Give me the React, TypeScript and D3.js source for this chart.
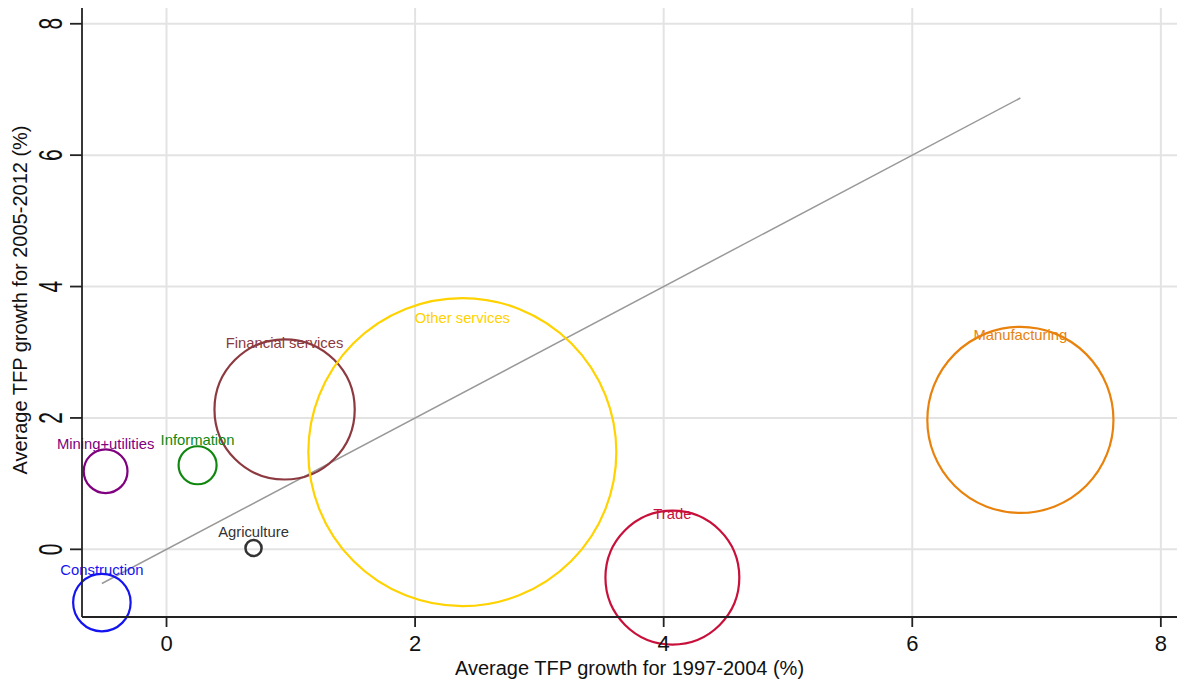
import * as d3 from "d3";
import { useEffect } from "react";

// sector data
const sectors = [
  "Agriculture",
  "Mining+utilities",
  "Construction",
  "Manufacturing",
  "Trade",
  "Information",
  "Financial services",
  "Other services",
];
const tfp9704 = [0.7, -0.49, -0.52, 6.87, 4.07, 0.25, 0.95, 2.38];
const tfp0512 = [0.02, 1.19, -0.81, 1.97, -0.43, 1.28, 2.13, 1.48];
const share = [0.15, 1.1, 1.9, 19.9, 10.3, 0.83, 11.3, 54.5];
const colors = ["#333333", "#800080", "#1414f0", "#e8820c", "#c8103a", "#108810", "#8c3a40", "#ffd200"];
const xTicks = [0, 2, 4, 6, 8];
const yTicks = [0, 2, 4, 6, 8];

const W = 1177;
const H = 685;
const left = 82;
const top = 8;
const bottom = 617;

export default function App() {
  useEffect(() => {
    document.body.style.margin = "0";
  }, []);

  const x = d3.scaleLinear().domain([-0.68, 8.13]).range([left, W]);
  const y = d3.scaleLinear().domain([-1.03, 8.24]).range([bottom, top]);
  const r = d3.scaleSqrt().domain([0, d3.max(share)!]).range([0, 154]);

  const lo = d3.min(tfp9704)!;
  const hi = d3.max(tfp9704)!;
  const diag = d3.line<number>().x((d) => x(d)).y((d) => y(d))([lo, hi]);

  const font = "Liberation Sans, Arial, Helvetica, sans-serif";

  return (
    <svg width={W} height={H} style={{ display: "block", background: "#fff" }} fontFamily={font}>
      {/* grid */}
      {xTicks.map((t) => (
        <line key={"gx" + t} x1={x(t)} x2={x(t)} y1={top} y2={bottom} stroke="#e3e3e3" strokeWidth={2} />
      ))}
      {yTicks.map((t) => (
        <line key={"gy" + t} x1={left} x2={W} y1={y(t)} y2={y(t)} stroke="#e3e3e3" strokeWidth={2} />
      ))}

      {/* 45 degree line */}
      <path d={diag!} stroke="#999" strokeWidth={1.5} fill="none" />

      {/* bubbles */}
      {sectors.map((s, i) => (
        <circle
          key={s}
          cx={x(tfp9704[i])}
          cy={y(tfp0512[i])}
          r={r(share[i])}
          fill="none"
          stroke={colors[i]}
          strokeWidth={i === 0 ? 2.5 : 2.2}
        />
      ))}
      {sectors.map((s, i) => (
        <text
          key={"l" + s}
          x={x(tfp9704[i])}
          y={y(tfp0512[i]) - (0.808 * r(share[i]) + 9.5)}
          textAnchor="middle"
          dominantBaseline="central"
          fontSize={14.8}
          fill={colors[i]}
        >
          {s}
        </text>
      ))}

      {/* axes */}
      <line x1={left} x2={left} y1={top} y2={bottom} stroke="#222" strokeWidth={1.8} />
      <line x1={left} x2={W} y1={bottom} y2={bottom} stroke="#222" strokeWidth={1.8} />
      {xTicks.map((t) => (
        <g key={"xt" + t}>
          <line x1={x(t)} x2={x(t)} y1={bottom} y2={bottom + 10} stroke="#222" strokeWidth={1.8} />
          <text x={x(t)} y={643} textAnchor="middle" dominantBaseline="central" fontSize={22} fill="#111">
            {t}
          </text>
        </g>
      ))}
      {yTicks.map((t) => (
        <g key={"yt" + t}>
          <line x1={left - 12} x2={left} y1={y(t)} y2={y(t)} stroke="#222" strokeWidth={1.8} />
          <text
            transform={`translate(${51},${y(t)}) rotate(-90) scale(1,1.6)`}
            textAnchor="middle"
            dominantBaseline="central"
            fontSize={21}
            fill="#111"
          >
            {t}
          </text>
        </g>
      ))}
      <text x={(left + W) / 2} y={668} textAnchor="middle" dominantBaseline="central" fontSize={20} fill="#111">
        Average TFP growth for 1997-2004 (%)
      </text>
      <text
        transform={`translate(${20},${300}) rotate(-90)`}
        textAnchor="middle"
        dominantBaseline="central"
        fontSize={20}
        fill="#111"
      >
        Average TFP growth for 2005-2012 (%)
      </text>
    </svg>
  );
}
